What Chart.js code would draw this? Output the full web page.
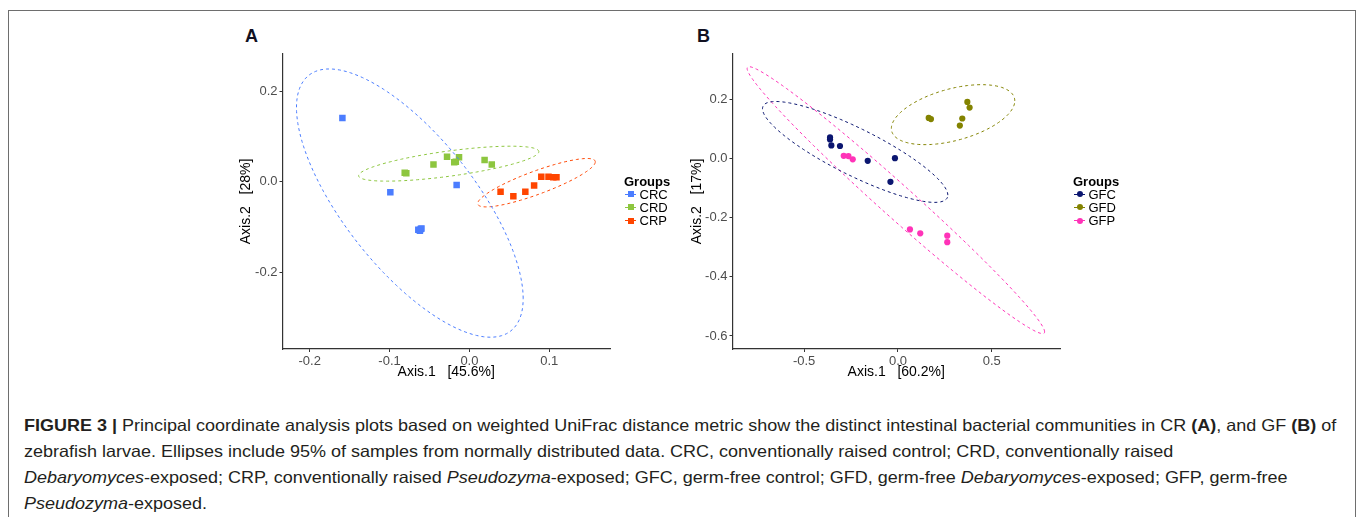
<!DOCTYPE html>
<html><head><meta charset="utf-8">
<script src="https://cdn.jsdelivr.net/npm/chart.js@4.4.1/dist/chart.umd.min.js"></script>
<style>
body{margin:0;width:1357px;height:517px;overflow:hidden;background:#fff;font-family:'Liberation Sans',Arial,Helvetica,sans-serif;position:relative}
#frame{position:absolute;left:8px;top:10px;width:1348px;height:530px;border:1.5px solid #6e6e6e;border-bottom:none;box-sizing:border-box}
canvas{position:absolute}
.lab{position:absolute;font-weight:bold;font-size:18px;color:#111122;line-height:20px}
.lg{position:absolute;font-size:13px;line-height:15px;color:#000;white-space:nowrap}
.lgt{font-weight:bold}
.gl{position:absolute;height:1px}
.mk{position:absolute}
#cap{position:absolute;left:24px;top:412px;font-size:16.5px;line-height:26px;color:#231f20}
#cap div{white-space:nowrap;transform-origin:0 50%}
</style></head><body>
<div id="frame"></div>
<div class="lab" style="left:245px;top:26px">A</div>
<div class="lab" style="left:697px;top:26px">B</div>
<canvas id="ca" width="430" height="360" style="left:200px;top:40px"></canvas>
<canvas id="cb" width="430" height="360" style="left:650px;top:40px"></canvas>
<div id="legA"></div>
<div id="legB"></div>
<div id="cap">
<div><b>FIGURE 3 |</b> Principal coordinate analysis plots based on weighted UniFrac distance metric show the distinct intestinal bacterial communities in CR <b>(A)</b>, and GF <b>(B)</b> of</div>
<div>zebrafish larvae. Ellipses include 95% of samples from normally distributed data. CRC, conventionally raised control; CRD, conventionally raised</div>
<div><i>Debaryomyces</i>-exposed; CRP, conventionally raised <i>Pseudozyma</i>-exposed; GFC, germ-free control; GFD, germ-free <i>Debaryomyces</i>-exposed; GFP, germ-free</div>
<div><i>Pseudozyma</i>-exposed.</div>
</div>
<script>
// ---------- Panel A data (CR) ----------
const groupsA = ['CRC','CRD','CRP'];
const crcX = [-0.159,-0.099,-0.016,-0.064,-0.061,-0.062,-0.060];
const crcY = [0.141,-0.023,-0.007,-0.106,-0.104,-0.108,-0.103];
const crdX = [-0.081,-0.079,-0.045,-0.028,-0.019,-0.017,-0.013,0.019,0.028];
const crdY = [0.020,0.019,0.038,0.055,0.043,0.044,0.054,0.048,0.038];
const crpX = [0.039,0.055,0.070,0.081,0.090,0.099,0.105,0.109];
const crpY = [-0.022,-0.032,-0.022,-0.008,0.011,0.011,0.010,0.010];
// ellipse: [centerX, centerY, u.x, u.y, v.y]
const ellCRC = [-0.0746,-0.047,0.1419,-0.2106,0.208];
const ellCRD = [-0.0259,0.040,0.1128,0.0265,0.028];
const ellCRP = [0.084,-0.002,0.0736,0.0459,0.0273];
const xTicksA = [-0.2,-0.1,0.0,0.1];
const yTicksA = [-0.2,0.0,0.2];
const xRangeA = [-0.234,0.176];
const yRangeA = [-0.369,0.282];
// ---------- Panel B data (GF) ----------
const groupsB = ['GFC','GFD','GFP'];
const gfcX = [-0.362,-0.362,-0.355,-0.309,-0.161,-0.016,-0.040];
const gfcY = [0.071,0.064,0.044,0.042,-0.008,0.001,-0.079];
const gfdX = [0.164,0.176,0.370,0.382,0.343,0.330];
const gfdY = [0.137,0.133,0.191,0.172,0.135,0.111];
const gfpX = [-0.289,-0.264,-0.241,0.064,0.119,0.263,0.263];
const gfpY = [0.009,0.008,-0.003,-0.240,-0.253,-0.261,-0.283];
const ellGFC = [-0.228,0.022,0.494,-0.146,0.088];
const ellGFD = [0.294,0.148,0.329,0.0466,0.090];
const ellGFP = [-0.011,-0.141,0.793,-0.445,0.074];
const xTicksB = [-0.5,0.0,0.5];
const yTicksB = [-0.6,-0.4,-0.2,0.0,0.2];
const xRangeB = [-0.882,0.864];
const yRangeB = [-0.644,0.353];

const colA = ['#4b7dff','#8dc63f','#ff4500'];
const colB = ['#0b1670','#838300','#ff33b8'];
const FONT = "'Liberation Sans', Arial, sans-serif";

function pts(xs, ys){ return xs.map((x,i)=>({x:x, y:ys[i]})); }
function ellPts(e){
  const out=[]; const n=160;
  for(let i=0;i<=n;i++){ const t=2*Math.PI*i/n;
    out.push({x:e[0]+e[2]*Math.cos(t), y:e[1]+e[3]*Math.cos(t)+e[4]*Math.sin(t)}); }
  return out;
}
function ptDs(data,col,style,r){
  return {data:data, showLine:false, pointStyle:style, pointRadius:r, pointBackgroundColor:col, pointBorderColor:col, pointBorderWidth:0, order:2};
}
function elDs(data,col){
  return {data:data, showLine:true, pointRadius:0, borderColor:col, borderWidth:1, borderDash:[3,3], fill:false, tension:0, order:1};
}
function fmt(v){ return (Math.abs(v)<1e-9 ? 0 : v).toFixed(1); }

function makeChart(id, datasets, xr, yr, xt, yt, xTitle, yTitle, yTitlePad){
  return new Chart(document.getElementById(id), {
    type:'scatter',
    data:{datasets:datasets},
    options:{
      responsive:false, animation:false, devicePixelRatio:1,
      layout:{padding:{left:0,right:20,top:14,bottom:1}},
      plugins:{legend:{display:false}, tooltip:{enabled:false}},
      scales:{
        x:{type:'linear', min:xr[0], max:xr[1],
          afterBuildTicks:s=>{ s.ticks = xt.map(v=>({value:v})); },
          afterFit:s=>{ s.height = 50; },
          grid:{display:true, drawOnChartArea:false, drawTicks:true, tickLength:3, color:'#333333', lineWidth:1},
          border:{display:true, color:'#333333', width:1.2},
          ticks:{color:'#4d4d4d', font:{size:13, family:FONT}, padding:2, maxRotation:0, autoSkip:false, callback:v=>fmt(v)},
          title:{display:true, text:xTitle, color:'#000', font:{size:14, family:FONT}, padding:{top:0,bottom:18}}
        },
        y:{type:'linear', min:yr[0], max:yr[1],
          afterBuildTicks:s=>{ s.ticks = yt.map(v=>({value:v})); },
          afterFit:s=>{ s.width = 82.5; },
          grid:{display:true, drawOnChartArea:false, drawTicks:true, tickLength:3, color:'#333333', lineWidth:1},
          border:{display:true, color:'#333333', width:1.2},
          ticks:{color:'#4d4d4d', font:{size:13, family:FONT}, padding:2, autoSkip:false, callback:v=>fmt(v)},
          title:{display:true, text:yTitle, color:'#000', font:{size:14, family:FONT}, padding:{top:yTitlePad,bottom:0}}
        }
      }
    }
  });
}

makeChart('ca', [
  ptDs(pts(crcX,crcY),colA[0],'rect',4.6),
  ptDs(pts(crdX,crdY),colA[1],'rect',4.6),
  ptDs(pts(crpX,crpY),colA[2],'rect',4.6),
  elDs(ellPts(ellCRC),colA[0]),
  elDs(ellPts(ellCRD),colA[1]),
  elDs(ellPts(ellCRP),colA[2])
], xRangeA, yRangeA, xTicksA, yTicksA, 'Axis.1   [45.6%]', 'Axis.2   [28%]', 37.4);

makeChart('cb', [
  ptDs(pts(gfcX,gfcY),colB[0],'circle',3.1),
  ptDs(pts(gfdX,gfdY),colB[1],'circle',3.1),
  ptDs(pts(gfpX,gfpY),colB[2],'circle',3.1),
  elDs(ellPts(ellGFC),colB[0]),
  elDs(ellPts(ellGFD),colB[1]),
  elDs(ellPts(ellGFP),colB[2])
], xRangeB, yRangeB, xTicksB, yTicksB, 'Axis.1   [60.2%]', 'Axis.2   [17%]', 38.9);

// ---------- legends ----------
function legend(elId, left, names, cols, round){
  const el = document.getElementById(elId);
  let h = '<div class="lg lgt" style="left:'+(left-1)+'px;top:'+(181-7.5)+'px">Groups</div>';
  const ys=[194,207.3,220.7];
  names.forEach((n,i)=>{
    const cy=ys[i];
    h += '<div class="gl" style="left:'+left+'px;top:'+(cy-0.5)+'px;width:11px;background:'+cols[i]+'"></div>';
    h += '<div class="mk" style="left:'+(left+2.5)+'px;top:'+(cy-3)+'px;width:6px;height:6px;background:'+cols[i]+(round?';border-radius:50%':'')+'"></div>';
    h += '<div class="lg" style="left:'+(left+14.5)+'px;top:'+(cy-7.5)+'px">'+n+'</div>';
  });
  el.innerHTML = h;
}
legend('legA', 625, groupsA, colA, false);
legend('legB', 1074, groupsB, colB, true);

// ---------- caption width fit ----------
const lines = document.querySelectorAll('#cap div');
const w1 = lines[0].scrollWidth;
const sc = 1312 / w1;
lines.forEach(d=>{ d.style.transform = 'scaleX('+sc+')'; });
</script>
</body></html>
